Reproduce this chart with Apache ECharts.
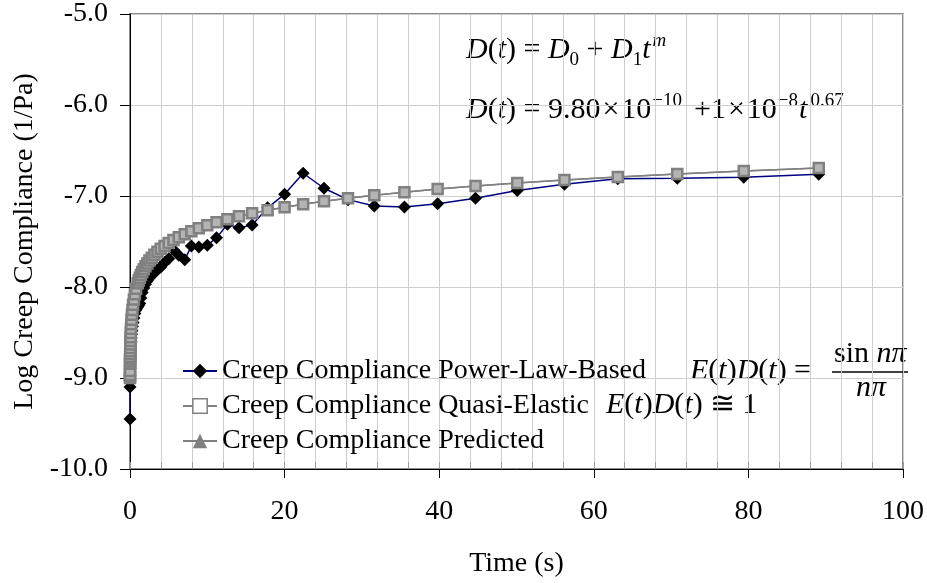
<!DOCTYPE html>
<html>
<head>
<meta charset="utf-8">
<script src="https://cdn.jsdelivr.net/npm/echarts@6.0.0/dist/echarts.min.js"></script>
<style>
  html, body { margin: 0; padding: 0; background: #fff; }
  #chart { width: 927px; height: 583px; }
</style>
</head>
<body>
<div id="chart"></div>
<script>
// Time of each reading (s)
const timeS = [
  0.0001, 0.000316, 0.001, 0.00316,
  0.01, 0.0126, 0.0158, 0.02, 0.0251, 0.0316, 0.0398, 0.0501, 0.0631, 0.0794,
  0.1, 0.126, 0.158, 0.2, 0.251, 0.316, 0.398, 0.501, 0.631, 0.794,
  1, 1.12, 1.26, 1.41, 1.58, 1.78, 2, 2.24, 2.51, 2.82,
  3.16, 3.55, 3.98, 4.47, 5.01, 5.62, 6.31, 7.08, 7.94, 8.91,
  10, 11.2, 12.6, 14.1, 15.8, 17.8, 20, 22.4, 25.1, 28.2,
  31.6, 35.5, 39.8, 44.7, 50.1, 56.2, 63.1, 70.8, 79.4, 89.1
];

// Log creep compliance, power-law based (log 1/Pa)
const powerLaw = [
  -9.45, -9.10, -9.03, -8.97,
  -8.90, -8.89, -8.87, -8.85, -8.83, -8.80, -8.77, -8.74, -8.71, -8.67,
  -8.64, -8.60, -8.56, -8.52, -8.48, -8.43, -8.39, -8.34, -8.29, -8.25,
  -8.22, -8.20, -8.18, -8.12, -8.06, -8.01, -7.97, -7.93, -7.90, -7.87,
  -7.84, -7.81, -7.78, -7.73, -7.69, -7.59, -7.65, -7.70, -7.55, -7.56,
  -7.54, -7.46, -7.31, -7.35, -7.32, -7.13, -6.98, -6.75, -6.915, -7.04,
  -7.11, -7.12, -7.085, -7.025, -6.94, -6.87, -6.81, -6.806, -6.795, -6.76
];

// Log creep compliance, quasi-elastic (log 1/Pa)
const quasiElastic = [
  -9.000, -8.989, -8.968, -8.924,
  -8.843, -8.820, -8.795, -8.768, -8.738, -8.706, -8.671, -8.633, -8.593, -8.551,
  -8.506, -8.459, -8.410, -8.359, -8.306, -8.252, -8.196, -8.138, -8.080, -8.020,
  -7.959, -7.929, -7.898, -7.867, -7.836, -7.805, -7.773, -7.741, -7.710, -7.678,
  -7.646, -7.614, -7.581, -7.549, -7.517, -7.484, -7.452, -7.419, -7.387, -7.354,
  -7.321, -7.288, -7.255, -7.222, -7.189, -7.156, -7.123, -7.090, -7.057, -7.024,
  -6.991, -6.958, -6.924, -6.891, -6.858, -6.825, -6.791, -6.758, -6.725, -6.691
];

// Log creep compliance, predicted (log 1/Pa)
const predicted = [
  -9.000, -8.989, -8.968, -8.924,
  -8.843, -8.820, -8.795, -8.768, -8.738, -8.706, -8.671, -8.633, -8.593, -8.551,
  -8.506, -8.459, -8.410, -8.359, -8.306, -8.252, -8.196, -8.138, -8.080, -8.020,
  -7.959, -7.929, -7.898, -7.867, -7.836, -7.805, -7.773, -7.741, -7.710, -7.678,
  -7.646, -7.614, -7.581, -7.549, -7.517, -7.484, -7.452, -7.419, -7.387, -7.354,
  -7.321, -7.288, -7.255, -7.222, -7.189, -7.156, -7.123, -7.090, -7.057, -7.024,
  -6.991, -6.958, -6.924, -6.891, -6.858, -6.825, -6.791, -6.758, -6.725, -6.691
];

const seriesNames = [
  'Creep Compliance Power-Law-Based',
  'Creep Compliance Quasi-Elastic',
  'Creep Compliance Predicted'
];

const SERIF = '"Liberation Serif", "Times New Roman", serif';
const GRID = { left: 130, top: 13, width: 773, height: 456 };

const pairs = (ys) => timeS.map((t, i) => [t, ys[i]]);

// ---- small inline math typesetting with measured advances ----
const measureCtx = document.createElement('canvas').getContext('2d');
function fontOf(p) {
  return (p.it ? 'italic ' : '') + p.size + 'px ' + SERIF;
}
// places each fragment so that its alphabetic baseline sits at `baseline + dy`
function mathRow(x0, baseline, pieces) {
  const els = [];
  let x = x0;
  pieces.forEach(p => {
    if (p.gap) { x += p.gap; return; }
    const font = fontOf(p);
    measureCtx.font = font;
    const w = measureCtx.measureText(p.t).width;
    els.push({
      type: 'text', x: x, y: baseline + (p.dy || 0) - 0.3375 * p.size, silent: true,
      style: { text: p.t, font: font, fill: '#000', align: 'left', verticalAlign: 'middle' }
    });
    x += w;
  });
  return { els, width: x - x0 };
}
const B = 30, S = 19;
const I = (t, o) => Object.assign({ t, it: true, size: B }, o || {});
const N = (t, o) => Object.assign({ t, it: false, size: B }, o || {});
const SUP = (t, it) => ({ t, it: !!it, size: S, dy: -13 });
const SUB = (t) => ({ t, it: false, size: S, dy: 6 });

const eq1 = mathRow(466, 60, [
  I('D'), N('('), I('t'), N(')'), N(' = '), I('D'), SUB('0'), N(' + '), I('D'), SUB('1'), I('t'), { gap: 2 }, SUP('m', true)
]);
const eq2 = mathRow(466, 120, [
  I('D'), N('('), I('t'), N(')'), N(' = 9.80'), { gap: 2 }, N('\u00d7'), { gap: 2 }, N('10'), { gap: 1 }, SUP('\u221210'),
  { gap: 12 }, N('+1'), { gap: 2 }, N('\u00d7'), { gap: 2 }, N('10'), { gap: 1 }, SUP('\u22128'), { gap: 1 }, I('t'), { gap: 3 }, SUP('0.67')
]);
const eq3 = mathRow(606, 415, [
  I('E'), N('('), I('t'), N(')'), I('D'), N('('), I('t'), N(')'), N(' '), N('\u2245'), N(' 1')
]);
const eq4 = mathRow(690, 381, [
  I('E'), N('('), I('t'), N(')'), I('D'), N('('), I('t'), N(')'), N(' = ')
]);
const fracX = 832, fracW = 76, barY = 372;
const numer = mathRow(fracX + 2, 364, [N('sin '), I('n'), I('\u03c0')]);
const denom = mathRow(fracX + fracW / 2 - 14, 398, [I('n'), I('\u03c0')]);

const graphicEls = [].concat(eq1.els, eq2.els, eq3.els, eq4.els, numer.els, denom.els, [{
  type: 'line', silent: true,
  shape: { x1: fracX, y1: barY, x2: fracX + fracW, y2: barY },
  style: { stroke: '#000', lineWidth: 1.5 }
}]);

const legendRows = [373, 408, 443];
const legendBase = {
  orient: 'vertical', left: 182, itemWidth: 34, itemHeight: 18, itemGap: 0, padding: 0,
  textStyle: { fontFamily: SERIF, fontSize: 28, color: '#000', padding: [0, 0, 0, 0] }
};
// legend swatches: the quasi-elastic square is shown open
const legendData = [
  { name: seriesNames[0] },
  { name: seriesNames[1], itemStyle: { color: '#fff', borderColor: '#808080', borderWidth: 1.5 } },
  { name: seriesNames[2] }
];

const chart = echarts.init(document.getElementById('chart'), null, { renderer: 'canvas' });
chart.setOption({
  animation: false,
  backgroundColor: '#fff',
  grid: Object.assign({ show: true, borderColor: '#8c8c8c', borderWidth: 2, backgroundColor: 'transparent', containLabel: false }, GRID),
  legend: legendData.map((d, i) => Object.assign({}, legendBase, { data: [d], top: legendRows[i] - 16 })),
  xAxis: [{
    type: 'value', min: 0, max: 100, interval: 20, position: 'bottom',
    axisLine: { onZero: false, lineStyle: { color: '#000', width: 1 } },
    axisTick: { inside: false, length: 9, lineStyle: { color: '#000' } },
    axisLabel: { fontFamily: SERIF, fontSize: 28, color: '#000', margin: 29 },
    splitLine: { show: false },
    name: 'Time (s)', nameLocation: 'middle', nameGap: 81,
    nameTextStyle: { fontFamily: SERIF, fontSize: 28, color: '#000' }
  }, {
    type: 'value', min: 0, max: 100, interval: 4, position: 'bottom',
    axisLine: { show: false },
    axisTick: { inside: true, length: 7, lineStyle: { color: '#9a9a9a' } },
    axisLabel: { show: false },
    splitLine: { show: true, lineStyle: { color: '#cfcfcf', width: 1 } }
  }],
  yAxis: {
    type: 'value', min: -10, max: -5, interval: 1,
    axisLine: { onZero: false, lineStyle: { color: '#000', width: 1 } },
    axisTick: { inside: false, length: 10, lineStyle: { color: '#000' } },
    axisLabel: { fontFamily: SERIF, fontSize: 28, color: '#000', margin: 22, formatter: v => v.toFixed(1) },
    splitLine: { show: true, lineStyle: { color: '#cfcfcf', width: 1 } },
    name: 'Log Creep Compliance (1/Pa)', nameLocation: 'middle', nameGap: 88, nameRotate: 90,
    nameTextStyle: { fontFamily: SERIF, fontSize: 28, color: '#000' }
  },
  series: [{
    name: seriesNames[0], type: 'line', z: 2,
    data: pairs(powerLaw),
    symbol: 'diamond', symbolSize: 13,
    itemStyle: { color: '#000', borderWidth: 0 },
    lineStyle: { color: '#000080', width: 1.5 }
  }, {
    name: seriesNames[2], type: 'line', z: 3,
    data: pairs(predicted),
    symbol: 'triangle', symbolSize: 9,
    itemStyle: { color: '#808080', borderWidth: 0 },
    lineStyle: { color: '#808080', width: 1.5 }
  }, {
    name: seriesNames[1], type: 'line', z: 4,
    data: pairs(quasiElastic),
    symbol: 'rect', symbolSize: 10,
    itemStyle: { color: '#b4b4b4', borderColor: '#808080', borderWidth: 2.5 },
    lineStyle: { color: '#808080', width: 1.5 }
  }],
  graphic: { elements: graphicEls }
});
</script>
</body>
</html>
